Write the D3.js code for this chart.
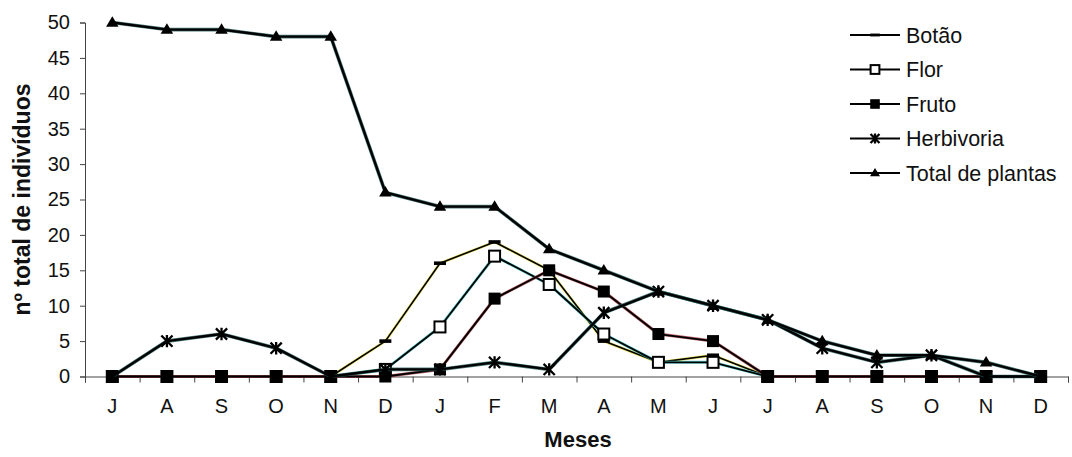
<!DOCTYPE html>
<html>
<head>
<meta charset="utf-8">
<script src="https://cdn.jsdelivr.net/npm/d3@7"></script>
<style>
  html, body { margin: 0; padding: 0; background: #fff; }
  svg { display: block; font-family: "Liberation Sans", Arial, sans-serif; }
</style>
</head>
<body>
<svg id="chart" width="1072" height="457"></svg>
<script>
// Months of the observation period (July to December of the following year)
const months = ["J", "A", "S", "O", "N", "D", "J", "F", "M", "A", "M", "J", "J", "A", "S", "O", "N", "D"];

const botao      = [0, 0, 0, 0, 0, 5, 16, 19, 15, 5, 2, 3, 0, 0, 0, 0, 0, 0];
const flor       = [0, 0, 0, 0, 0, 1, 7, 17, 13, 6, 2, 2, 0, 0, 0, 0, 0, 0];
const fruto      = [0, 0, 0, 0, 0, 0, 1, 11, 15, 12, 6, 5, 0, 0, 0, 0, 0, 0];
const herbivoria = [0, 5, 6, 4, 0, 1, 1, 2, 1, 9, 12, 10, 8, 4, 2, 3, 0, 0];
const totalPlantas = [50, 49, 49, 48, 48, 26, 24, 24, 18, 15, 12, 10, 8, 5, 3, 3, 2, 0];

const yTicks = [0, 5, 10, 15, 20, 25, 30, 35, 40, 45, 50];

const series = [
  { name: "Botão",           values: botao,        marker: "dash",     halo: "#e8e04a", width: 1.6 },
  { name: "Flor",            values: flor,         marker: "open",     halo: "#3fc7c7", width: 1.8 },
  { name: "Fruto",           values: fruto,        marker: "square",   halo: "#a0353a", width: 1.8 },
  { name: "Herbivoria",      values: herbivoria,   marker: "star",     halo: "#1f5a5a", width: 2.4 },
  { name: "Total de plantas",values: totalPlantas, marker: "triangle", halo: "#1f5a5a", width: 2.4 }
];

const svg = d3.select("#chart");
const plotLeft = 85, plotRight = 1068, plotTop = 22.5, plotBottom = 376.5;
const tickFont = 20;

const x = d3.scaleBand().domain(d3.range(months.length)).range([plotLeft, plotRight]);
const xEdge = d3.scaleLinear().domain([0, months.length]).range([plotLeft, plotRight]);
const y = d3.scaleLinear().domain([0, 50]).range([plotBottom, plotTop]);
const cx = i => x(i) + x.bandwidth() / 2;

// Y axis
const yAxis = svg.append("g")
  .attr("transform", `translate(${plotLeft},0)`)
  .call(d3.axisLeft(y).tickValues(yTicks).tickSize(5).tickPadding(10));
yAxis.select(".domain").attr("stroke", "#444").attr("stroke-width", 1);
yAxis.selectAll(".tick line").attr("stroke", "#444");
yAxis.selectAll("text").attr("font-size", tickFont).attr("fill", "#111")
  .attr("font-family", "Liberation Sans, Arial, sans-serif");

// X axis: boundary ticks plus centred month labels
const xAxisTicks = svg.append("g")
  .attr("transform", `translate(0,${y(0)})`)
  .call(d3.axisBottom(xEdge).tickValues(d3.range(months.length + 1)).tickSize(6).tickFormat(""));
xAxisTicks.select(".domain").attr("stroke", "#444").attr("stroke-width", 1);
xAxisTicks.selectAll(".tick line").attr("stroke", "#444");

const xAxisLabels = svg.append("g")
  .attr("transform", `translate(0,${y(0)})`)
  .call(d3.axisBottom(x).tickSize(0).tickPadding(22).tickFormat(i => months[i]));
xAxisLabels.select(".domain").remove();
xAxisLabels.selectAll("text").attr("font-size", tickFont).attr("fill", "#111")
  .attr("font-family", "Liberation Sans, Arial, sans-serif");

// Axis titles
svg.append("text")
  .attr("x", 578).attr("y", 447)
  .attr("text-anchor", "middle")
  .attr("font-size", 22).attr("font-weight", "bold").attr("fill", "#111")
  .text("Meses");

svg.append("text")
  .attr("transform", `translate(30,${(plotTop + plotBottom) / 2}) rotate(-90)`)
  .attr("text-anchor", "middle")
  .attr("font-size", 23).attr("font-weight", "bold").attr("fill", "#111")
  .text("nº total de indivíduos");

// Marker drawing helper
function drawMarker(g, type, px, py, scale) {
  const s = scale || 1;
  if (type === "dash") {
    g.append("rect").attr("x", px - 6 * s).attr("y", py - 1.8 * s)
      .attr("width", 12 * s).attr("height", 3.6 * s).attr("fill", "#000");
  } else if (type === "open") {
    g.append("rect").attr("x", px - 5.5 * s).attr("y", py - 5.5 * s)
      .attr("width", 11 * s).attr("height", 11 * s)
      .attr("fill", "#fff").attr("stroke", "#000").attr("stroke-width", 2);
  } else if (type === "square") {
    g.append("rect").attr("x", px - 6 * s).attr("y", py - 6 * s)
      .attr("width", 12 * s).attr("height", 12 * s).attr("fill", "#000");
  } else if (type === "triangle") {
    const h = 10.5 * s, w = 12.5 * s;
    g.append("path")
      .attr("d", `M${px},${py - h * 0.6}L${px + w / 2},${py + h * 0.4}L${px - w / 2},${py + h * 0.4}Z`)
      .attr("fill", "#000");
  } else if (type === "star") {
    // asterisk: vertical stroke plus two diagonals
    const r = 6.2 * s, d = 5.6 * s;
    const p = `M${px},${py - r}L${px},${py + r}` +
              `M${px - d},${py - d}L${px + d},${py + d}` +
              `M${px - d},${py + d}L${px + d},${py - d}`;
    g.append("path").attr("d", p).attr("stroke", "#000").attr("stroke-width", 2.3).attr("fill", "none");
  }
}

const line = d3.line().x((d, i) => cx(i)).y(d => y(d));

const plot = svg.append("g");
series.forEach(s => {
  const g = plot.append("g");
  g.append("path").datum(s.values).attr("d", line)
    .attr("fill", "none").attr("stroke", s.halo).attr("stroke-width", s.width + 1.2)
    .attr("stroke-linejoin", "round").attr("opacity", 0.8);
  g.append("path").datum(s.values).attr("d", line)
    .attr("fill", "none").attr("stroke", "#000").attr("stroke-width", s.width)
    .attr("stroke-linejoin", "round");
  s.values.forEach((v, i) => drawMarker(g, s.marker, cx(i), y(v)));
});

// Legend
const legend = svg.append("g");
series.forEach((s, k) => {
  const ly = 35 + k * 34.5;
  legend.append("line").attr("x1", 850).attr("x2", 900).attr("y1", ly).attr("y2", ly)
    .attr("stroke", "#000").attr("stroke-width", 2);
  drawMarker(legend, s.marker, 875, ly, 0.8);
  legend.append("text").attr("x", 906).attr("y", ly + 7.5)
    .attr("font-size", 21.5).attr("fill", "#111").text(s.name);
});
</script>
</body>
</html>
